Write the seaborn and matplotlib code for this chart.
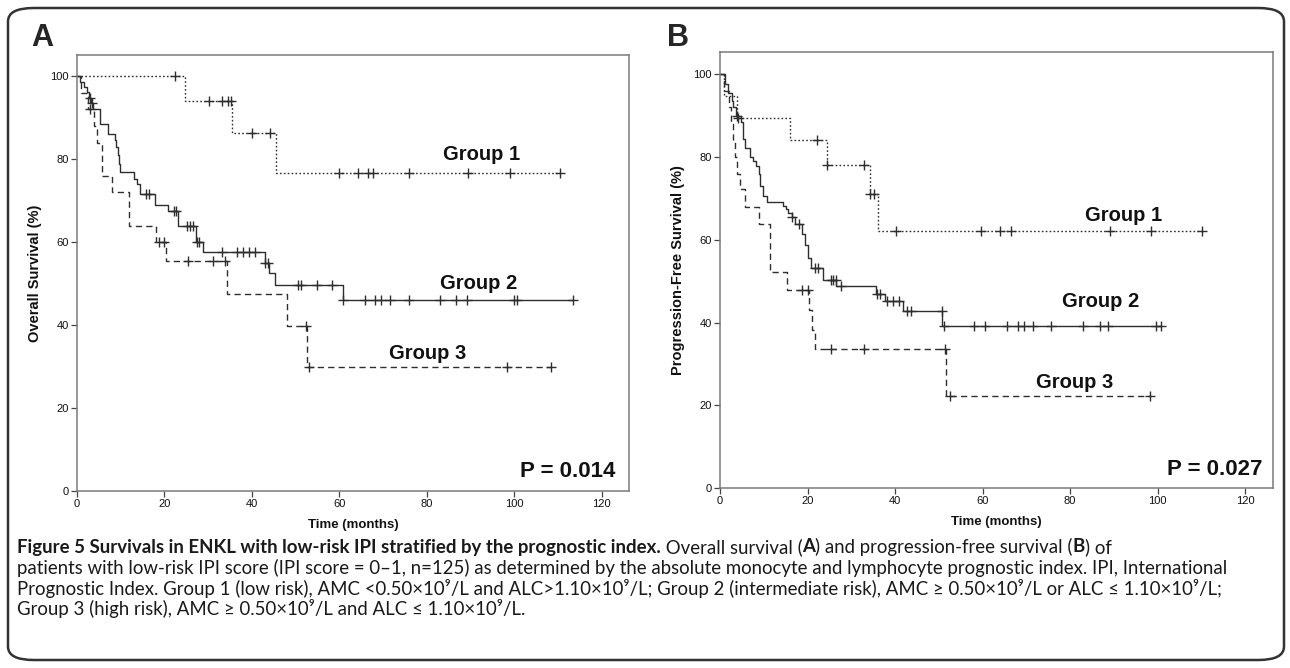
import numpy as np
import pandas as pd
import matplotlib
matplotlib.use("Agg")
import matplotlib.pyplot as plt
import seaborn as sns
from matplotlib.patches import FancyBboxPatch

# ---------------- data ----------------
# Panel A : overall survival
a_g1_time = [0, 24.7, 35.5, 45.5]
a_g1_surv = [100, 94.1, 86.3, 76.7]
a_g1_cens = [22.4, 30.2, 33.1, 34.6, 35.2, 40.0, 44.1, 60.0, 64.2, 66.6, 67.7,
             75.8, 89.4, 98.9, 110.4]

a_g2_time = [0, 0.8, 1.6, 2.2, 2.8, 3.3, 3.7, 5.3, 7.2, 8.7, 9.0, 9.3, 9.6, 9.9,
             13.0, 13.8, 14.5, 17.8, 20.9, 23.2, 27.2, 28.7, 42.9, 43.8, 45.2, 60.7]
a_g2_surv = [100, 98.7, 97.4, 96.1, 94.8, 93.5, 92.2, 88.4, 86.0, 84.7, 83.0, 81.0,
             78.9, 76.8, 75.3, 74.0, 71.7, 68.9, 67.4, 64.0, 60.0, 57.5, 55.0, 52.5,
             49.7, 46.0]
a_g2_cens = [2.9, 3.4, 15.8, 16.5, 22.2, 22.6, 25.1, 25.8, 26.6, 27.5, 28.0, 33.2,
             36.6, 38.0, 39.4, 40.7, 42.9, 43.7, 50.6, 51.1, 54.8, 58.2, 60.8, 65.9,
             68.2, 69.5, 71.5, 75.8, 83.1, 86.7, 89.1, 100.0, 100.5, 113.5]

a_g3_time = [0, 1.0, 2.6, 4.0, 4.6, 5.8, 8.0, 11.8, 18.0, 20.3, 34.4, 47.9, 52.6]
a_g3_surv = [100, 96.0, 92.0, 88.0, 84.0, 76.0, 72.0, 64.0, 60.0, 55.5, 47.6, 39.7, 29.8]
a_g3_cens = [3.0, 18.8, 19.9, 25.3, 31.0, 33.8, 52.3, 53.1, 98.3, 108.3]

# Panel B : progression-free survival
b_g1_time = [0, 1.0, 3.8, 16.0, 24.4, 34.2, 36.2]
b_g1_surv = [100, 94.7, 89.5, 84.2, 78.1, 71.1, 62.2]
b_g1_cens = [4.0, 22.2, 24.5, 33.0, 34.3, 35.2, 40.3, 59.7, 64.0, 66.6, 89.1,
             98.6, 110.2]

b_g2_time = [0, 1.1, 1.9, 2.7, 3.0, 3.7, 4.9, 5.3, 5.7, 6.9, 7.6, 8.2, 8.8, 9.1,
             9.8, 10.7, 14.3, 15.1, 15.6, 16.4, 17.1, 18.7, 19.4, 20.2, 20.7, 23.5,
             26.6, 35.7, 37.8, 41.8, 50.8]
b_g2_surv = [100, 97.6, 95.6, 93.6, 92.0, 90.0, 88.4, 84.3, 82.3, 79.9, 79.1, 77.9,
             75.8, 73.0, 70.6, 69.2, 68.2, 67.4, 66.6, 65.4, 63.8, 61.4, 58.8, 55.6,
             53.3, 50.3, 48.8, 46.8, 45.3, 42.9, 39.2]
b_g2_cens = [3.8, 16.4, 18.1, 21.8, 22.5, 25.3, 25.8, 26.4, 27.6, 35.9, 36.6, 38.1,
             39.5, 40.8, 42.7, 43.6, 50.7, 51.2, 58.1, 60.6, 65.6, 68.0, 69.4, 71.6,
             75.6, 83.0, 86.8, 88.7, 99.6, 100.7]

b_g3_time = [0, 1.0, 2.0, 2.6, 3.0, 3.4, 3.8, 4.6, 5.7, 8.8, 11.4, 15.4, 20.3, 21.0,
             21.8, 51.7]
b_g3_surv = [100, 96.0, 92.0, 88.0, 84.0, 80.0, 76.0, 72.2, 68.0, 63.9, 52.1, 47.8,
             43.0, 38.2, 33.5, 22.2]
b_g3_cens = [18.7, 20.0, 25.3, 33.0, 51.5, 52.5, 98.2]

x_ticks = [0, 20, 40, 60, 80, 100, 120]
y_ticks = [0, 20, 40, 60, 80, 100]
group_labels = ["Group 1", "Group 2", "Group 3"]
p_values = ["P = 0.014", "P = 0.027"]
y_titles = ["Overall Survival (%)", "Progression-Free Survival (%)"]
x_title = "Time (months)"
panel_letters = ["A", "B"]

# ---------------- style ----------------
sns.set_style("white")
plt.rcParams["font.family"] = ["Liberation Sans", "DejaVu Sans"]

LINE = "#2e2e2e"
FRAME = "#7a7a7a"
styles = {
    0: dict(linestyle=(0, (1.2, 1.6)), lw=1.0),
    1: dict(linestyle="-", lw=1.0),
    2: dict(linestyle=(0, (4.5, 3.0)), lw=1.0),
}

fig = plt.figure(figsize=(12.9, 6.68), dpi=100)
W, H = 1290, 668


def px_axes(l, t, r, b):
    return fig.add_axes([l / W, 1 - b / H, (r - l) / W, (b - t) / H])


axA = px_axes(77, 55, 629, 491)
axB = px_axes(720, 52, 1273, 488)


def km(ax, t, s, cens, key):
    t = np.asarray(t, float)
    s = np.asarray(s, float)
    c = np.asarray(cens, float)
    end = max(c.max(), t[-1])
    df = pd.DataFrame({"time": np.append(t, end), "surv": np.append(s, s[-1])})
    sns.lineplot(data=df, x="time", y="surv", ax=ax, estimator=None, sort=False,
                 drawstyle="steps-post", color=LINE, **styles[key])
    idx = np.searchsorted(t, c, side="right") - 1
    cdf = pd.DataFrame({"time": c, "surv": s[idx]})
    sns.scatterplot(data=cdf, x="time", y="surv", ax=ax, marker="+", s=42,
                    color=LINE, linewidth=1.0, zorder=4)


panels = [
    (axA, [(a_g1_time, a_g1_surv, a_g1_cens), (a_g2_time, a_g2_surv, a_g2_cens),
           (a_g3_time, a_g3_surv, a_g3_cens)], (126.2, 105.1)),
    (axB, [(b_g1_time, b_g1_surv, b_g1_cens), (b_g2_time, b_g2_surv, b_g2_cens),
           (b_g3_time, b_g3_surv, b_g3_cens)], (126.4, 105.4)),
]

label_pos = [
    [(92.6, 81.0), (91.9, 50.1), (80.2, 33.2)],
    [(92.3, 65.8), (87.1, 45.2), (81.1, 25.6)],
]
p_pos = [(123.0, 4.8), (123.9, 4.4)]

for i, (ax, groups, (xmax, ymax)) in enumerate(panels):
    for k, (t, s, c) in enumerate(groups):
        km(ax, t, s, c, k)
    ax.set_xlim(0, xmax)
    ax.set_ylim(0, ymax)
    ax.set_xticks(x_ticks)
    ax.set_yticks(y_ticks)
    ax.tick_params(axis="both", direction="out", length=4, width=0.9,
                   color="#444444", labelsize=8, labelcolor="#111111", pad=2,
                   bottom=True, left=True)
    for sp in ax.spines.values():
        sp.set_color(FRAME)
        sp.set_linewidth(1.1)
    ax.set_xlabel(x_title, fontsize=9.5, fontweight="bold", color="#111111")
    ax.set_ylabel(y_titles[i], fontsize=10.5, fontweight="bold", color="#111111")
    ax.xaxis.set_label_coords(0.5, -0.078)
    ax.yaxis.set_label_coords(-0.076, 0.5)
    ax.xaxis.label.set_va("center")
    ax.yaxis.label.set_va("center")
    for k, (x, y) in enumerate(label_pos[i]):
        ax.text(x, y, group_labels[k], ha="center", va="center", fontsize=14.5,
                fontweight="bold", color="#111111")
    ax.text(p_pos[i][0], p_pos[i][1], p_values[i], ha="right", va="center",
            fontsize=16, fontweight="bold", color="#111111")

# panel letters
fig.text(31 / W, 1 - 38 / H, panel_letters[0], fontsize=22, fontweight="bold",
         ha="left", va="center")
fig.text(667 / W, 1 - 38 / H, panel_letters[1], fontsize=22, fontweight="bold",
         ha="left", va="center")

# rounded outer border
border = FancyBboxPatch((8 / W, 8 / H), (1284 - 8) / W, (660 - 8) / H,
                        boxstyle="round,pad=0,rounding_size=0.02",
                        transform=fig.transFigure, fill=False,
                        edgecolor="#333333", linewidth=1.8)
fig.patches.append(border)

# ---------------- caption ----------------
cap_font = ["Lato", "DejaVu Sans"]
caption_lines = [
    [("Figure 5 Survivals in ENKL with low-risk IPI stratified by the prognostic index.", "bold"),
     (" Overall survival (", "normal"), ("A", "bold"),
     (") and progression-free survival (", "normal"), ("B", "bold"), (") of", "normal")],
    [("patients with low-risk IPI score (IPI score = 0\u20131, n=125) as determined by the "
      "absolute monocyte and lymphocyte prognostic index. IPI, International", "normal")],
    [("Prognostic Index. Group 1 (low risk), AMC <0.50\u00d710\u2079/L and ALC>1.10\u00d710\u2079/L; "
      "Group 2 (intermediate risk), AMC \u2265 0.50\u00d710\u2079/L or ALC \u2264 1.10\u00d710\u2079/L;", "normal")],
    [("Group 3 (high risk), AMC \u2265 0.50\u00d710\u2079/L and ALC \u2264 1.10\u00d710\u2079/L.", "normal")],
]
line_y = [547, 568, 588, 609]
x0 = 17
target_w = 1231 - 17

renderer = fig.canvas.get_renderer()
probe = fig.text(0, 0, caption_lines[1][0][0], fontsize=10, family=cap_font)
w10 = probe.get_window_extent(renderer).width
probe.remove()
cap_size = 10 * target_w / w10

for segs, yy in zip(caption_lines, line_y):
    x = x0
    for txt, wt in segs:
        t = fig.text(x / W, 1 - yy / H, txt, fontsize=cap_size, fontweight=wt,
                     family=cap_font, ha="left", va="center", color="#1a1a1a")
        x += t.get_window_extent(renderer).width

fig.savefig("out.png", dpi=100)
